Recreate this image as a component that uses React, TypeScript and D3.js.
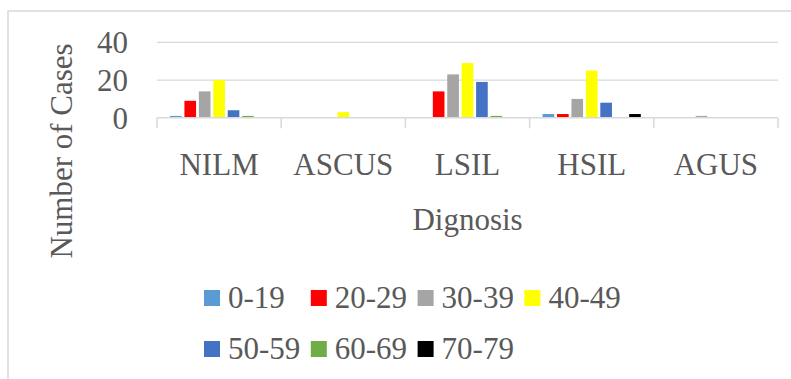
import React from "react";
import * as d3 from "d3";

const categories = ["NILM", "ASCUS", "LSIL", "HSIL", "AGUS"];
const ageGroups = ["0-19", "20-29", "30-39", "40-49", "50-59", "60-69", "70-79"];
const groupColors = ["#5B9BD5", "#FF0000", "#A5A5A5", "#FFFF00", "#4472C4", "#70AD47", "#000000"];

// cases per age group, one array per diagnosis (order follows ageGroups)
const nilm = [1, 9, 14, 20, 4, 1, 0];
const ascus = [0, 0, 0, 3, 0, 0, 0];
const lsil = [0, 14, 23, 29, 19, 1, 0];
const hsil = [2, 2, 10, 25, 8, 0, 2];
const agus = [0, 0, 1, 0, 0, 0, 0];
const seriesByCategory = [nilm, ascus, lsil, hsil, agus];

const yTicks = [0, 20, 40];

const W = 791;
const H = 379;
const FONT = "Liberation Serif, Tinos, Times New Roman, DejaVu Serif, serif";
const TEXT = "#595959";
const GRID = "#D9D9D9";

const textStyle: React.CSSProperties = { fontFamily: FONT, fontSize: 31, fill: TEXT };

export default function App() {
  const x = d3.scaleBand<string>().domain(categories).range([157, 778]).padding(0);
  const cw = x.bandwidth();
  const inner = d3
    .scaleBand<string>()
    .domain(ageGroups)
    .range([13, cw - 13])
    .paddingInner(0.193)
    .paddingOuter(0);
  const y = d3.scaleLinear().domain([0, 40]).range([117.8, 42.3]);

  const boundaries = categories.map((c) => x(c) as number).concat([(x(categories[4]) as number) + cw]);

  return (
    <svg
      width={W}
      height={H}
      style={{ position: "absolute", left: 0, top: 0, background: "#fff" }}
    >
      {/* chart frame */}
      <rect x={8} y={11} width={W + 10} height={H + 10} fill="#fff" stroke={GRID} strokeWidth={1.5} />

      {/* gridlines */}
      {yTicks
        .filter((t) => t > 0)
        .map((t) => (
          <line key={t} x1={157} x2={778} y1={y(t)} y2={y(t)} stroke={GRID} strokeWidth={1.2} />
        ))}

      {/* y tick labels */}
      {yTicks.map((t) => (
        <text key={t} x={128} y={y(t) + 11} textAnchor="end" style={textStyle}>
          {t}
        </text>
      ))}

      {/* bars */}
      {categories.map((c, ci) =>
        seriesByCategory[ci].map((v, gi) =>
          v > 0 ? (
            <rect
              key={c + gi}
              x={(x(c) as number) + (inner(ageGroups[gi]) as number)}
              y={y(v)}
              width={inner.bandwidth()}
              height={y(0) - y(v)}
              fill={groupColors[gi]}
            />
          ) : null
        )
      )}

      {/* category axis */}
      <line x1={157} x2={778} y1={y(0)} y2={y(0)} stroke={GRID} strokeWidth={1.5} />
      {boundaries.map((bx, i) => (
        <line key={i} x1={bx} x2={bx} y1={y(0)} y2={y(0) + 10.5} stroke={GRID} strokeWidth={1.5} />
      ))}
      {categories.map((c) => (
        <text key={c} x={(x(c) as number) + cw / 2} y={175} textAnchor="middle" style={textStyle}>
          {c}
        </text>
      ))}

      {/* axis titles */}
      <text x={467.5} y={230} textAnchor="middle" style={textStyle}>
        Dignosis
      </text>
      <text transform="translate(72,151) rotate(-90)" textAnchor="middle" style={textStyle}>
        Number of Cases
      </text>

      {/* legend */}
      {ageGroups.map((g, i) => {
        const row = i < 4 ? 0 : 1;
        const col = i < 4 ? i : i - 4;
        const lx = 204 + col * 106.8;
        const ly = row === 0 ? 290 : 341;
        return (
          <g key={g}>
            <rect x={lx} y={ly} width={16} height={16} fill={groupColors[i]} />
            <text x={lx + 24} y={ly + 18.3} style={textStyle}>
              {g}
            </text>
          </g>
        );
      })}
    </svg>
  );
}
